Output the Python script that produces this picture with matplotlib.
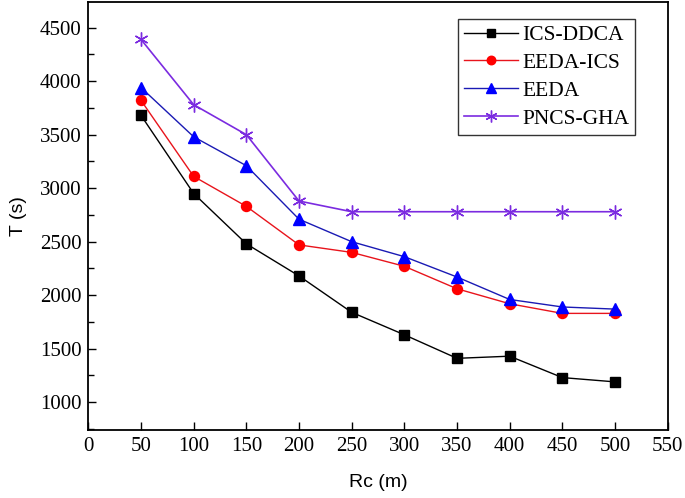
import matplotlib
matplotlib.use("Agg")
import matplotlib.pyplot as plt
from matplotlib.ticker import MultipleLocator

rc = [50, 100, 150, 200, 250, 300, 350, 400, 450, 500]
ics_ddca = [3680, 2950, 2480, 2180, 1840, 1630, 1410, 1430, 1230, 1190]
eeda_ics = [3820, 3110, 2830, 2470, 2400, 2270, 2060, 1920, 1830, 1830]
eeda = [3940, 3480, 3210, 2710, 2500, 2360, 2170, 1960, 1890, 1870]
pncs_gha = [4390, 3780, 3500, 2880, 2780, 2780, 2780, 2780, 2780, 2780]

series_names = ["ICS-DDCA", "EEDA-ICS", "EEDA", "PNCS-GHA"]
x_ticks = [0, 50, 100, 150, 200, 250, 300, 350, 400, 450, 500, 550]
y_ticks = [1000, 1500, 2000, 2500, 3000, 3500, 4000, 4500]

serif = ["Liberation Serif", "DejaVu Serif"]
sans = ["Liberation Sans", "DejaVu Sans"]

fig = plt.figure(figsize=(6.85, 4.98), dpi=100)
ax = fig.add_axes([0.129, 0.1365, 0.8457, 0.8595])

ax.plot(rc, ics_ddca, color="black", lw=1.0, marker="s", ms=6.8, label=series_names[0])
ax.plot(rc, eeda_ics, color="#e8141c", lw=1.0, marker="o", ms=7.2, mfc="red", mec="red", label=series_names[1])
ax.plot(rc, eeda, color="#1a1ab4", lw=1.0, marker="^", ms=8.5, mfc="blue", mec="blue", label=series_names[2])
ax.plot(rc, pncs_gha, color="#7b2be0", lw=1.2, marker=(6, 2, 0), ms=10, mec="#7b2be0", mew=1.0, label=series_names[3])

ax.set_xlim(0, 550)
ax.set_ylim(740, 4740)
ax.set_xticks(x_ticks)
ax.set_yticks(y_ticks)
ax.yaxis.set_minor_locator(MultipleLocator(250))
ax.tick_params(axis="both", which="major", direction="in", length=6, width=1.0,
               top=False, right=False, labelsize=15, pad=5)
ax.tick_params(axis="y", which="minor", direction="in", length=4, width=1.0, right=False)
for lbl in ax.get_xticklabels() + ax.get_yticklabels():
    lbl.set_family(serif)
for s in ax.spines.values():
    s.set_linewidth(1.3)

ax.set_xlabel("Rc (m)", fontsize=14, family=sans, labelpad=13)
ax.set_ylabel("T (s)", fontsize=14, family=sans, labelpad=9)

leg = ax.legend(loc="upper right", bbox_to_anchor=(0.9436, 0.960), prop={"family": serif, "size": 15.5},
                frameon=True, fancybox=False, edgecolor="black", borderpad=0.28,
                labelspacing=0.36, handlelength=2.5, handletextpad=0.2, borderaxespad=0,
                markerscale=0.85)
leg.get_frame().set_linewidth(1.0)

fig.savefig("out.png", dpi=100)
